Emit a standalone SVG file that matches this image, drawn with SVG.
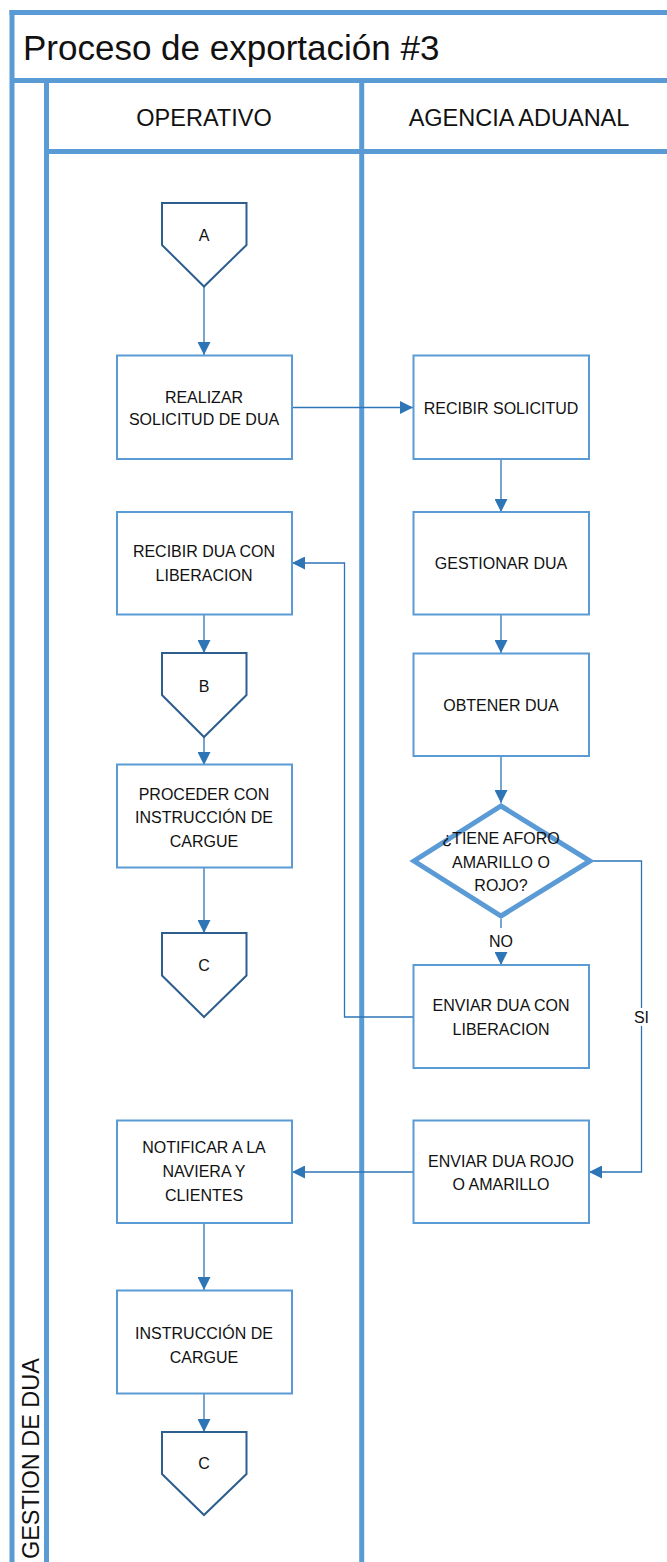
<svg xmlns="http://www.w3.org/2000/svg" width="667" height="1562" viewBox="0 0 667 1562">
  <defs>
    <style>
      .lane { stroke: #5B9BD5; stroke-width: 5; fill: none; }
      .box { fill: #FFFFFF; stroke: #5B9BD5; stroke-width: 2; }
      .dec { fill: #FFFFFF; stroke: #5B9BD5; stroke-width: 5; stroke-linejoin: miter; }
      .ref { fill: #FFFFFF; stroke: #2E5E8E; stroke-width: 2; }
      .edge { fill: none; stroke: #2E75B6; stroke-width: 1.3; }
      .arrow { marker-end: url(#ah); }
      text { font-family: "Liberation Sans", Arial, sans-serif; fill: #111111; }
      .t { font-size: 16px; text-anchor: middle; }
      .hdr { font-size: 23.5px; text-anchor: middle; }
      .title { font-size: 35px; }
    </style>
    <marker id="ah" markerUnits="userSpaceOnUse" markerWidth="13" markerHeight="13" refX="13" refY="6.5" orient="auto">
      <path d="M0,0 L13,6.5 L0,13 z" fill="#2E75B6"/>
    </marker>
  </defs>

  <rect x="0" y="0" width="667" height="1562" fill="#FFFFFF"/>

  <!-- pool frame, title bar, lane headers -->
  <g id="pool">
    <line class="lane" x1="9.5" y1="12.5" x2="667" y2="12.5"/>
    <line class="lane" x1="12" y1="10" x2="12" y2="1562"/>
    <line class="lane" x1="12" y1="80.5" x2="667" y2="80.5"/>
    <line class="lane" x1="46.5" y1="80.5" x2="46.5" y2="1562"/>
    <line class="lane" x1="361.7" y1="80.5" x2="361.7" y2="1562"/>
    <line class="lane" x1="46.5" y1="151.5" x2="667" y2="151.5"/>
    <text class="title" x="23" y="59.5">Proceso de exportación #3</text>
    <text class="hdr" x="204" y="126">OPERATIVO</text>
    <text class="hdr" x="519" y="126">AGENCIA ADUANAL</text>
    <text class="hdr" text-anchor="end" transform="translate(38.5,1358) rotate(-90)" x="0" y="0" style="text-anchor:end">GESTION DE DUA</text>
  </g>

  <!-- connectors -->
  <g id="connectors">
    <line class="edge arrow" x1="204" y1="287" x2="204" y2="355"/>
    <line class="edge arrow" x1="292" y1="407.5" x2="413" y2="407.5"/>
    <line class="edge arrow" x1="501" y1="459" x2="501" y2="512"/>
    <line class="edge arrow" x1="501" y1="614" x2="501" y2="653"/>
    <line class="edge arrow" x1="501" y1="756" x2="501" y2="803"/>
    <line class="edge arrow" x1="501" y1="919" x2="501" y2="965"/>
    <polyline class="edge arrow" points="413,1017 344.5,1017 344.5,563 292,563"/>
    <polyline class="edge arrow" points="592,861 641.5,861 641.5,1172 589,1172"/>
    <line class="edge arrow" x1="413" y1="1172" x2="292" y2="1172"/>
    <line class="edge arrow" x1="204" y1="1223" x2="204" y2="1290"/>
    <line class="edge arrow" x1="204" y1="1393" x2="204" y2="1432"/>
    <line class="edge arrow" x1="204" y1="614" x2="204" y2="653"/>
    <line class="edge arrow" x1="204" y1="737" x2="204" y2="765"/>
    <line class="edge arrow" x1="204" y1="867" x2="204" y2="933"/>
    <rect x="488" y="928" width="26" height="24" fill="#FFFFFF"/>
    <text class="t" x="501" y="947">NO</text>
    <rect x="632" y="1008" width="19" height="18" fill="#FFFFFF"/>
    <text class="t" x="641.5" y="1023">SI</text>
  </g>

  <!-- nodes: operativo lane -->
  <g id="refA">
    <polygon class="ref" points="162,203 246.5,203 246.5,245 204,286.5 162,245"/>
    <text class="t" x="204" y="240.5">A</text>
  </g>
  <g id="realizarSolicitud">
    <rect class="box" x="117" y="355.5" width="175" height="103.5"/>
    <text class="t" x="204" y="402.5">REALIZAR</text>
    <text class="t" x="204" y="425">SOLICITUD DE DUA</text>
  </g>
  <g id="recibirDua">
    <rect class="box" x="117" y="512" width="175" height="102.5"/>
    <text class="t" x="204" y="557">RECIBIR DUA CON</text>
    <text class="t" x="204" y="581">LIBERACION</text>
  </g>
  <g id="refB">
    <polygon class="ref" points="162,653 246.5,653 246.5,695 204,737 162,695"/>
    <text class="t" x="204" y="691.5">B</text>
  </g>
  <g id="procederCargue">
    <rect class="box" x="117" y="764.5" width="175" height="103"/>
    <text class="t" x="204" y="800">PROCEDER CON</text>
    <text class="t" x="204" y="823">INSTRUCCIÓN DE</text>
    <text class="t" x="204" y="846.5">CARGUE</text>
  </g>
  <g id="refC1">
    <polygon class="ref" points="162,933 246.5,933 246.5,975.5 204,1017 162,975.5"/>
    <text class="t" x="204" y="970.5">C</text>
  </g>
  <g id="notificarNaviera">
    <rect class="box" x="117" y="1120.5" width="175" height="102.5"/>
    <text class="t" x="204" y="1153">NOTIFICAR A LA</text>
    <text class="t" x="204" y="1177">NAVIERA Y</text>
    <text class="t" x="204" y="1201">CLIENTES</text>
  </g>
  <g id="instruccionCargue">
    <rect class="box" x="117" y="1290.5" width="175" height="103"/>
    <text class="t" x="204" y="1338.5">INSTRUCCIÓN DE</text>
    <text class="t" x="204" y="1363">CARGUE</text>
  </g>
  <g id="refC2">
    <polygon class="ref" points="162,1432 246.5,1432 246.5,1474 204,1515 162,1474"/>
    <text class="t" x="204" y="1469">C</text>
  </g>

  <!-- nodes: agencia aduanal lane -->
  <g id="recibirSolicitud">
    <rect class="box" x="413.5" y="355.5" width="175.5" height="103.5"/>
    <text class="t" x="501" y="413.5">RECIBIR SOLICITUD</text>
  </g>
  <g id="gestionarDua">
    <rect class="box" x="413.5" y="512" width="175.5" height="102.5"/>
    <text class="t" x="501" y="569">GESTIONAR DUA</text>
  </g>
  <g id="obtenerDua">
    <rect class="box" x="413.5" y="653.5" width="175.5" height="102.5"/>
    <text class="t" x="501" y="710.5">OBTENER DUA</text>
  </g>
  <g id="aforoDecision">
    <polygon class="dec" points="501,806 590,861 501,916 414,861"/>
    <text class="t" x="501" y="844">¿TIENE AFORO</text>
    <text class="t" x="501" y="868">AMARILLO O</text>
    <text class="t" x="501" y="891">ROJO?</text>
  </g>
  <g id="enviarLiberacion">
    <rect class="box" x="413.5" y="965" width="175.5" height="103"/>
    <text class="t" x="501" y="1010.5">ENVIAR DUA CON</text>
    <text class="t" x="501" y="1034.5">LIBERACION</text>
  </g>
  <g id="enviarRojo">
    <rect class="box" x="413.5" y="1120.5" width="175.5" height="102.5"/>
    <text class="t" x="501" y="1166.5">ENVIAR DUA ROJO</text>
    <text class="t" x="501" y="1190">O AMARILLO</text>
  </g>
</svg>
